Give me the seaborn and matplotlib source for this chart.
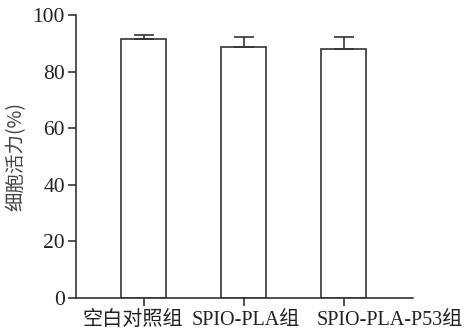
import matplotlib
matplotlib.use('Agg')
import matplotlib.pyplot as plt
from matplotlib.transforms import ScaledTranslation
import seaborn as sns
import pandas as pd

groups = ['空白对照组', 'SPIO-PLA组', 'SPIO-PLA-P53组']
viability = [91.4, 88.7, 87.9]
sd = [1.5, 3.5, 4.4]

sns.set_style('ticks')
plt.rcParams['font.family'] = ['Liberation Serif', 'Noto Sans CJK SC']

df = pd.DataFrame({'group': groups, 'viability': viability})

fig = plt.figure(figsize=(4.65, 3.34), dpi=100)
ax = fig.add_axes([0.1634, 0.1078, 0.7247, 0.8472])

sns.barplot(data=df, x='group', y='viability', errorbar=None, width=0.45,
            color='white', edgecolor='#333333', linewidth=1.2, ax=ax)
ax.errorbar(range(len(groups)), viability, yerr=[[0] * len(sd), sd], fmt='none',
            ecolor='#333333', elinewidth=1.2, capsize=7, capthick=1.2)

ax.set_xlim(-0.68, 2.69)
ax.set_ylim(0, 100)
ax.set_yticks([0, 20, 40, 60, 80, 100])
ax.set_xlabel('')
ax.set_ylabel('细胞活力(%)', fontsize=14, family=['Noto Sans CJK SC'], color='#444444', labelpad=4)
ax.tick_params(axis='both', length=6, width=1.2, color='#333333', labelcolor='#222222')
ax.tick_params(axis='y', labelsize=15.5, pad=2)
ax.tick_params(axis='x', labelsize=14.5, pad=3.5)
for s in ['left', 'bottom']:
    ax.spines[s].set_linewidth(1.2)
    ax.spines[s].set_color('#333333')
sns.despine(ax=ax)

# the long labels are spread out so they do not overlap
for lbl, ha, dx in zip(ax.get_xticklabels(), ['left', 'center', 'right'], [-61, 2, 119]):
    lbl.set_ha(ha)
    lbl.set_transform(lbl.get_transform() + ScaledTranslation(dx / 100, 0, fig.dpi_scale_trans))

fig.savefig('out.png', dpi=100)
